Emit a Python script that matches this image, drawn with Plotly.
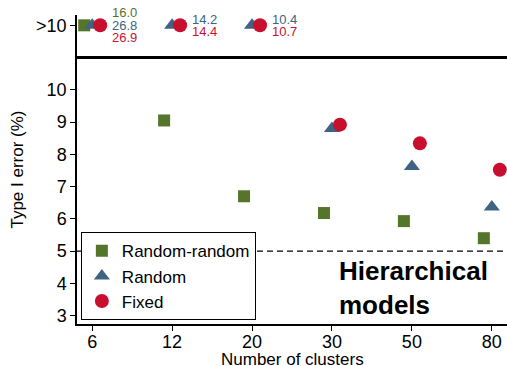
import plotly.graph_objects as go

clusters = ["6", "12", "20", "30", "50", "80"]
random_random = [16.0, 9.05, 6.7, 6.18, 5.93, 5.4]
random_ = [26.8, 14.2, 10.4, 8.8, 7.62, 6.37]
fixed = [26.9, 14.4, 10.7, 8.92, 8.34, 7.52]
y_ticks = [3, 4, 5, 6, 7, 8, 9, 10, 12]
y_ticktext = ["3", "4", "5", "6", "7", "8", "9", "10", ">10"]

CAP = 10
TOP = 12
GREEN = "#55752b"
BLUE = "#3e6383"
RED = "#c8102e"

def disp(vals):
    return [TOP if v > CAP else v for v in vals]

idx = list(range(len(clusters)))

fig = go.Figure()
series = [
    ("Random-random", random_random, GREEN, "square", -0.1, 12),
    ("Random", random_, BLUE, "triangle-up", 0.0, 14),
    ("Fixed", fixed, RED, "circle", 0.1, 14),
]
for name, vals, col, sym, off, sz in series:
    fig.add_trace(go.Scatter(
        x=[i + off for i in idx], y=disp(vals), mode="markers", name=name,
        marker=dict(symbol=sym, color=col, size=sz, line=dict(width=0)),
        cliponaxis=False,
    ))

# labels for values above cap
annots = []
for i in idx:
    over = [(vals[i], col) for _, vals, col, _, _, _ in series if vals[i] > CAP]
    n = len(over)
    for k, (v, col) in enumerate(over):
        shift = (n - 1) / 2 * 12.5 - k * 12.5
        annots.append(dict(x=i + 0.22, y=TOP, xref="x", yref="y", text=f"{v:.1f}",
                           showarrow=False, xanchor="left", yanchor="middle",
                           yshift=shift, font=dict(size=13, color=col)))

annots.append(dict(x=3.06, y=3.87, xref="x", yref="y",
                   text="<b>Hierarchical<br>models</b>", showarrow=False,
                   xanchor="left", yanchor="middle", align="left",
                   font=dict(size=26, color="black")))

annots.append(dict(x=0.5, y=0, xref="paper", yref="paper",
                   text="Number of clusters", showarrow=False,
                   xanchor="center", yanchor="top", yshift=-24,
                   font=dict(size=17, color="black")))

fig.update_layout(
    width=507, height=366,
    margin=dict(l=77, r=0, t=15, b=42, autoexpand=False),
    plot_bgcolor="white", paper_bgcolor="white",
    font=dict(family="Liberation Sans, Arial, sans-serif", color="black"),
    showlegend=True,
    legend=dict(x=0.009, y=0.012, xanchor="left", yanchor="bottom",
                bgcolor="white", bordercolor="black", borderwidth=1,
                font=dict(size=17), itemwidth=30, tracegroupgap=0),
    annotations=annots,
    shapes=[
        dict(type="line", xref="paper", yref="y", x0=0, x1=1, y0=11, y1=11,
             line=dict(color="black", width=3)),
        dict(type="line", xref="paper", yref="y", x0=0, x1=1, y0=5, y1=5,
             line=dict(color="black", width=1.2, dash="6px,4px"), layer="below"),
    ],
)
fig.update_xaxes(
    range=[-0.19, 5.19], tickvals=idx, ticktext=clusters, automargin=False,
    showline=True, linecolor="black", linewidth=1.5, ticks="outside",
    ticklen=5, tickcolor="black", showgrid=False, zeroline=False,
    tickfont=dict(size=18), ticklabelstandoff=-4,
)
fig.update_yaxes(
    range=[2.74, 12.32], tickvals=y_ticks, ticktext=y_ticktext, automargin=False,
    showline=True, linecolor="black", linewidth=1.5, ticks="outside",
    ticklen=5, tickcolor="black", showgrid=False, zeroline=False,
    tickfont=dict(size=18),
    title=dict(text="Type I error (%)", font=dict(size=17), standoff=8),
)
fig.write_html("out.html", config={"displayModeBar": False},
               post_script="document.body.style.margin='0';")
